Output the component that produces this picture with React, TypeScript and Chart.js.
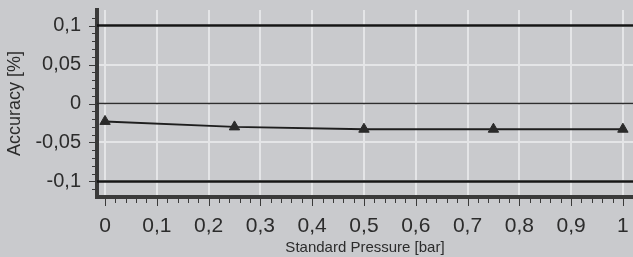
import React, { useEffect, useRef } from "react";
import { Chart, registerables } from "chart.js";

Chart.register(...registerables);

const pressures = [0, 0.25, 0.5, 0.75, 1];
const accuracy = [-0.023, -0.03, -0.033, -0.033, -0.033];
const upperLimit = 0.1;
const lowerLimit = -0.1;
const zeroLine = 0;
const xTicks = [0, 0.1, 0.2, 0.3, 0.4, 0.5, 0.6, 0.7, 0.8, 0.9, 1];
const yTicks = [-0.1, -0.05, 0, 0.05, 0.1];
const xMin = -0.0155;
const xMax = 1.0195;
const yMin = -0.12;
const yMax = 0.12;

const fmt = (v: number) => {
  const r = Math.round(v * 1000) / 1000;
  if (r === 0) return "0";
  return String(r).replace(".", ",");
};

const bgPlugin = {
  id: "bg",
  beforeDraw(chart: any) {
    const ctx = chart.ctx;
    ctx.save();
    ctx.fillStyle = "#c9cacd";
    ctx.fillRect(0, 0, chart.width, chart.height);
    ctx.restore();
  },
};

const minorTicksPlugin = {
  id: "minorTicks",
  afterDraw(chart: any) {
    const ctx = chart.ctx;
    const xs = chart.scales.x;
    const ys = chart.scales.y;
    const area = chart.chartArea;
    ctx.save();
    ctx.strokeStyle = "#3a3a3a";
    ctx.lineWidth = 1;
    for (let i = 0; i <= 50; i++) {
      const v = i * 0.02;
      const px = Math.round(xs.getPixelForValue(v)) + 0.5;
      const major = i % 5 === 0;
      ctx.beginPath();
      ctx.moveTo(px, area.bottom + 1);
      ctx.lineTo(px, area.bottom + (major ? 9 : 6));
      ctx.stroke();
    }
    for (let i = -11; i <= 11; i++) {
      const v = i * 0.01;
      const py = Math.round(ys.getPixelForValue(v)) + 0.5;
      const major = i % 5 === 0;
      ctx.beginPath();
      ctx.moveTo(area.left - 2, py);
      ctx.lineTo(area.left - (major ? 8 : 5), py);
      ctx.stroke();
    }
    ctx.restore();
  },
};

export default function App() {
  const ref = useRef<HTMLCanvasElement | null>(null);
  useEffect(() => {
    document.body.style.margin = "0";
    document.body.style.background = "#c9cacd";
    const canvas = ref.current!;
    const chart = new Chart(canvas, {
      type: "scatter",
      data: {
        datasets: [
          {
            label: "upper",
            data: [
              { x: xMin, y: upperLimit },
              { x: xMax, y: upperLimit },
            ],
            showLine: true,
            borderColor: "#151515",
            borderWidth: 2.5,
            pointRadius: 0,
          },
          {
            label: "lower",
            data: [
              { x: xMin, y: lowerLimit },
              { x: xMax, y: lowerLimit },
            ],
            showLine: true,
            borderColor: "#151515",
            borderWidth: 2.5,
            pointRadius: 0,
          },
          {
            label: "zero",
            data: [
              { x: xMin, y: zeroLine },
              { x: xMax, y: zeroLine },
            ],
            showLine: true,
            borderColor: "#2e2e2e",
            borderWidth: 1.5,
            pointRadius: 0,
          },
          {
            label: "Accuracy",
            data: pressures.map((p, i) => ({ x: p, y: accuracy[i] })),
            showLine: true,
            borderColor: "#1e1e1e",
            borderWidth: 2,
            pointStyle: "triangle",
            pointRadius: 6,
            pointBackgroundColor: "#2a2a2a",
            pointBorderColor: "#2a2a2a",
            pointBorderWidth: 1,
            clip: false,
          },
        ],
      },
      options: {
        animation: false,
        responsive: false,
        maintainAspectRatio: false,
        layout: { autoPadding: false, padding: { top: 10, right: 0, left: 0, bottom: 0 } },
        plugins: {
          legend: { display: false },
          tooltip: { enabled: false },
        },
        scales: {
          x: {
            type: "linear",
            min: xMin,
            max: xMax,
            afterBuildTicks: (s: any) => {
              s.ticks = xTicks.map((v) => ({ value: v }));
            },
            afterFit: (s: any) => {
              s.height = 60;
              s.paddingLeft = 0;
              s.paddingRight = 0;
            },
            grid: {
              color: "#e4e5e7",
              lineWidth: 2,
              drawTicks: false,
            },
            border: { color: "#3a3a3a", width: 4 },
            ticks: {
              callback: (v: any) => fmt(Number(v)),
              color: "#2c2c2c",
              font: { family: "Liberation Sans", size: 21 },
              padding: 17,
              maxRotation: 0,
              autoSkip: false,
            },
            title: {
              display: true,
              text: "Standard Pressure [bar]",
              color: "#2c2c2c",
              font: { family: "Liberation Sans", size: 15 },
              padding: { top: 0, bottom: 0 },
            },
          },
          y: {
            type: "linear",
            min: yMin,
            max: yMax,
            afterBuildTicks: (s: any) => {
              s.ticks = yTicks.map((v) => ({ value: v }));
            },
            afterFit: (s: any) => {
              s.width = 97;
              s.paddingTop = 0;
              s.paddingBottom = 0;
            },
            grid: {
              color: "#e4e5e7",
              lineWidth: 2,
              drawTicks: false,
            },
            border: { color: "#3a3a3a", width: 4 },
            ticks: {
              callback: (v: any) => fmt(Number(v)),
              color: "#2c2c2c",
              font: { family: "Liberation Sans", size: 20 },
              padding: 16,
              autoSkip: false,
            },
            title: {
              display: true,
              text: "Accuracy [%]",
              color: "#2c2c2c",
              font: { family: "Liberation Sans", size: 18 },
              padding: { top: 4, bottom: 0 },
            },
          },
        },
      },
      plugins: [bgPlugin, minorTicksPlugin],
    } as any);
    return () => chart.destroy();
  }, []);
  return <canvas ref={ref} width={633} height={257} style={{ display: "block" }} />;
}
